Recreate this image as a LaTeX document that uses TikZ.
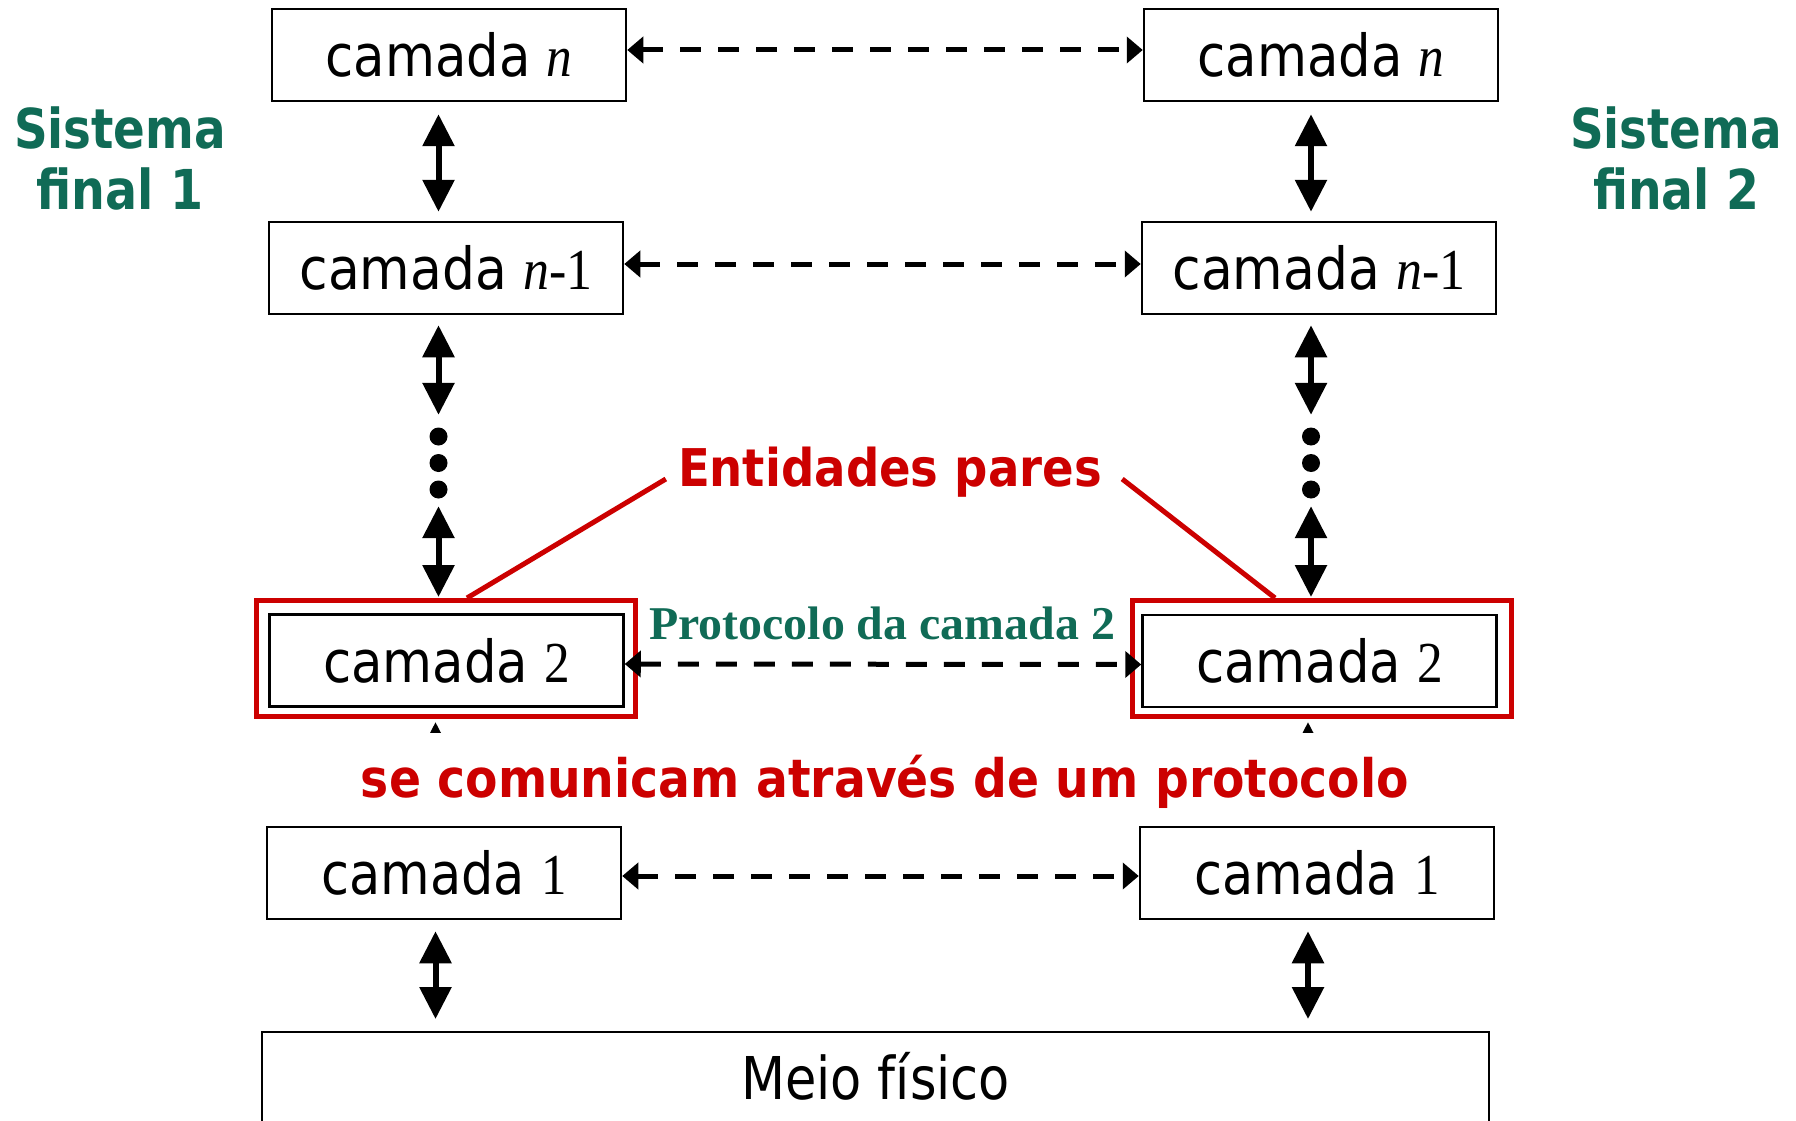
\documentclass[tikz,border=0pt]{standalone}
\usepackage{fontspec}
\setmainfont{DejaVu Sans}
\newfontfamily\tnr{Liberation Serif}
\usetikzlibrary{arrows.meta}
\definecolor{kgreen}{RGB}{16,107,86}
\definecolor{kred}{RGB}{204,0,0}
\newcommand\fitw[2]{\resizebox{#1}{\height}{#2}}
\tikzset{
 layer/.style={draw, line width=2.5pt, minimum width=354pt, minimum height=92pt, inner sep=0pt, font=\fontsize{58}{60}\selectfont},
 redbox/.style={draw=kred, line width=5pt, minimum width=379pt, minimum height=116pt, inner sep=0pt},
 varrow/.style={line width=6pt, {Triangle[length=32pt,width=31pt]}-{Triangle[length=32pt,width=31pt]}},
 harrow/.style={line width=5pt, dash pattern=on 21pt off 17pt, {Triangle[length=16pt,width=26pt]}-{Triangle[length=16pt,width=26pt]}},
 redline/.style={draw=kred, line width=5pt},
 dotnode/.style={minimum width=18pt, minimum height=72pt, inner sep=0pt},
 sysname/.style={text=kgreen, align=center, anchor=north, inner sep=0pt, font=\bfseries\fontsize{55}{61}\selectfont},
}
\begin{document}
\begin{tikzpicture}[x=1pt,y=-1pt]
\useasboundingbox (0,0) rectangle (1796,1121);

% columns
\coordinate (colLa) at (438.5,0);
\coordinate (colRa) at (1311,0);
\coordinate (colLb) at (435.5,0);
\coordinate (colRb) at (1308,0);

% system labels
\node[sysname] (sf1) at (120,107) {\fitw{212pt}{Sistema}\\\fitw{167pt}{final 1}};
\node[sysname] (sf2) at (1676,107) {\fitw{212pt}{Sistema}\\\fitw{166pt}{final 2}};

% layer boxes
\node[layer] (nL) at (449,55) {\fitw{247pt}{camada {\tnr\itshape n}}};
\node[layer] (nR) at (1321,55) {\fitw{247pt}{camada {\tnr\itshape n}}};
\node[layer] (n1L) at (446,268) {\fitw{293pt}{camada {\tnr\itshape n}{\tnr -1}}};
\node[layer] (n1R) at (1319,268) {\fitw{293pt}{camada {\tnr\itshape n}{\tnr -1}}};
\node[redbox] (c2Lr) at (446,658.5) {};
\node[redbox] (c2Rr) at (1322,658.5) {};
\node[layer] (c2L) at (446.5,660.5) {\fitw{247pt}{camada {\tnr 2}}};
\node[layer] (c2R) at (1319.5,661) {\fitw{247pt}{camada {\tnr 2}}};
\node[layer] (c1L) at (444,873) {\fitw{245pt}{camada {\tnr 1}}};
\node[layer] (c1R) at (1317,873) {\fitw{245pt}{camada {\tnr 1}}};

% physical medium
\node[minimum width=1227pt, minimum height=89pt, anchor=north, inner sep=0pt, font=\fontsize{59}{62}\selectfont] (meio) at (875.5,1032) {\fitw{269pt}{Meio físico}};
\draw[line width=2.5pt] (meio.south west) -- (meio.north west) -- (meio.north east) -- (meio.south east);

% dots
\node[dotnode] (dL) at (438.5,463) {};
\node[dotnode] (dR) at (1311,463) {};
\foreach \d in {dL,dR}{
  \fill (\d.center) circle (9pt);
  \fill ([yshift=26.5pt]\d.center) circle (9pt);
  \fill ([yshift=-26.5pt]\d.center) circle (9pt);
}

% vertical arrows
\draw[varrow, shorten <=12pt, shorten >=9pt] (nL.south -| colLa) -- (n1L.north -| colLa);
\draw[varrow, shorten <=12pt, shorten >=9pt] (nR.south -| colRa) -- (n1R.north -| colRa);
\draw[varrow, shorten <=10pt, shorten >=12pt] (n1L.south -| colLa) -- (dL.north);
\draw[varrow, shorten <=10pt, shorten >=12pt] (n1R.south -| colRa) -- (dR.north);
\draw[varrow, shorten <=7pt, shorten >=1pt] (dL.south) -- (c2Lr.north -| colLa);
\draw[varrow, shorten <=7pt, shorten >=1pt] (dR.south) -- (c2Rr.north -| colRa);
\draw[varrow, shorten <=3pt, shorten >=10pt] (c2Lr.south -| colLb) -- (c1L.north -| colLb);
\draw[varrow, shorten <=3pt, shorten >=10pt] (c2Rr.south -| colRb) -- (c1R.north -| colRb);
\draw[varrow, shorten <=11pt, shorten >=13pt] (c1L.south -| colLb) -- (meio.north -| colLb);
\draw[varrow, shorten <=11pt, shorten >=13pt] (c1R.south -| colRb) -- (meio.north -| colRb);

% dashed peer arrows
\draw[harrow] ([yshift=5pt]nL.east) -- ([yshift=5pt]nR.west);
\draw[harrow] ([yshift=4pt]n1L.east) -- ([yshift=4pt]n1R.west);
\draw[harrow] ([yshift=-3.5pt]c2L.east) -- ([yshift=-3.5pt]c2R.west);
\draw[harrow] ([yshift=-3pt]c1L.east) -- ([yshift=-3pt]c1R.west);

% labels
\node[anchor=base, inner sep=0pt, text=kred, font=\bfseries\fontsize{52}{56}\selectfont] (ent) at (890,486) {\fitw{424pt}{Entidades pares}};
\draw[redline] ([xshift=-12pt,yshift=7pt]ent.base west) -- ([xshift=21pt]c2Lr.north);
\draw[redline] ([xshift=20pt,yshift=7pt]ent.base east) -- ([xshift=-47pt]c2Rr.north);
\node[anchor=base, inner sep=0pt, text=kgreen, font=\tnr\bfseries\fontsize{47}{50}\selectfont] (prot) at (882,639) {\fitw{466pt}{Protocolo da camada 2}};
\node[anchor=base, fill=white, inner sep=0pt, text height=64pt, text depth=28pt, text=kred, font=\bfseries\fontsize{53}{56}\selectfont] (com) at (885,797) {\fitw{1048pt}{se comunicam através de um protocolo}};
\end{tikzpicture}
\end{document}
